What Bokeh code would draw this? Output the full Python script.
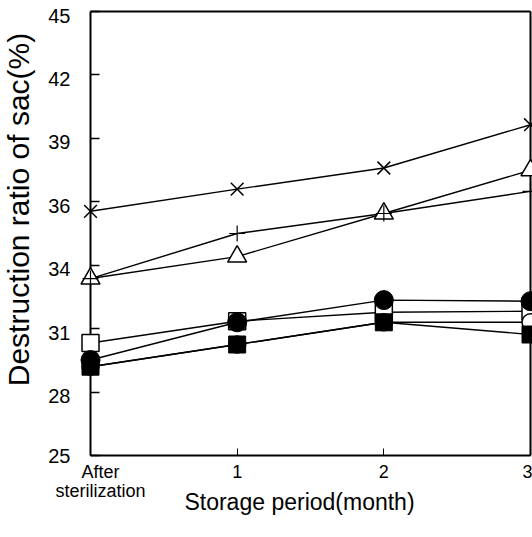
import math
from bokeh.plotting import figure
from bokeh.models import (Range1d, LinearAxis, FixedTicker, CustomJSTickFormatter)
from bokeh.core.properties import value
from bokeh.embed import file_html
from bokeh.resources import INLINE

# ---------------- data ----------------
months = [0, 1, 2, 3]
x_tick_labels = ["After\nsterilization", "1", "2", "3"]
y_tick_labels = ["25", "28", "31", "34", "36", "39", "42", "45"]
y_min, y_max = 25, 45

s_cross = [36.0, 37.0, 37.95, 39.9]
s_plus = [32.97, 35.0, 35.9, 36.9]
s_tri = [32.97, 33.96, 35.9, 37.85]
s_open_sq = [30.07, 31.05, 31.45, 31.5]
s_fill_circle = [29.3, 31.0, 32.0, 31.95]
s_open_circle = [29.0, 30.0, 31.0, 31.0]
s_fill_sq = [29.0, 30.0, 31.0, 30.45]

x_title = "Storage period(month)"
y_title = "Destruction ratio of sac(%)"

FONT = "Liberation Sans"

# ---------------- figure ----------------
W, H = 532, 537
B_LEFT, B_RIGHT, B_TOP, B_BOTTOM = 90, 2, 11, 82
p = figure(width=W, height=H, output_backend="svg", toolbar_location=None,
           x_range=Range1d(months[0], months[-1]), y_range=Range1d(y_min, y_max),
           x_axis_type=None, y_axis_type=None,
           min_border_left=B_LEFT, min_border_right=B_RIGHT,
           min_border_top=B_TOP, min_border_bottom=B_BOTTOM)
p.outline_line_color = None
p.background_fill_color = "white"
p.border_fill_color = "white"

frame_w = W - B_LEFT - B_RIGHT
frame_h = H - B_TOP - B_BOTTOM
px_x = (months[-1] - months[0]) / frame_w      # data units per pixel (x)
px_y = (y_max - y_min) / frame_h               # data units per pixel (y)

n = len(y_tick_labels)
y_ticks = [y_min + k * (y_max - y_min) / (n - 1) for k in range(n)]
shift = 4 * px_y
p.extra_y_ranges = {"lab": Range1d(y_min + shift, y_max + shift)}
lab_ticks = [y_min + shift] + y_ticks[1:]

# left axis: line + inward ticks
yA = LinearAxis(ticker=FixedTicker(ticks=y_ticks, minor_ticks=[]),
                formatter=CustomJSTickFormatter(code="return ''"),
                major_tick_in=9, major_tick_out=0, minor_tick_in=0, minor_tick_out=0,
                axis_line_width=2, major_tick_line_width=1.5, major_label_standoff=0)
p.add_layout(yA, "left")
# left axis: labels
yB = LinearAxis(y_range_name="lab", ticker=FixedTicker(ticks=lab_ticks, minor_ticks=[]),
                formatter=CustomJSTickFormatter(args=dict(labels=y_tick_labels), code="return labels[index]"),
                axis_line_color=None, major_tick_line_color=None, minor_tick_line_color=None,
                major_tick_in=0, major_tick_out=0, major_label_standoff=20,
                major_label_text_font=FONT, major_label_text_font_size="20px",
                major_label_text_color="black")
p.add_layout(yB, "left")

nb = "\u00a0" * 4
x_labels_shown = [nb + t.replace("\n", "\n" + nb) if i == 0 else t for i, t in enumerate(x_tick_labels)]
xA = LinearAxis(ticker=FixedTicker(ticks=months, minor_ticks=[]),
                formatter=CustomJSTickFormatter(args=dict(labels=x_labels_shown), code="return labels[index]"),
                major_tick_in=7, major_tick_out=0, minor_tick_in=0, minor_tick_out=0,
                axis_line_width=2, major_tick_line_width=1, major_label_standoff=6,
                major_label_text_font=FONT, major_label_text_font_size="18px",
                major_label_text_line_height=0.95,
                major_label_text_color="black")
p.add_layout(xA, "below")

top = LinearAxis(ticker=FixedTicker(ticks=[], minor_ticks=[]), axis_line_width=2,
                 major_label_standoff=0, major_tick_out=0, major_tick_in=0)
p.add_layout(top, "above")
right = LinearAxis(ticker=FixedTicker(ticks=[], minor_ticks=[]), axis_line_width=2,
                   major_label_standoff=0, major_tick_out=0, major_tick_in=0)
p.add_layout(right, "right")

# ---------------- series ----------------
for vals in [s_cross, s_plus, s_tri, s_open_sq, s_open_circle, s_fill_sq, s_fill_circle]:
    p.line(months, vals, line_color="black", line_width=1.4, level="overlay")

p.scatter(months, s_open_sq, marker="square", size=17, fill_color="white", line_color="black", line_width=1.5, level="overlay")
p.scatter(months, s_open_circle, marker="circle", size=17, fill_color="white", line_color="black", line_width=1.5, level="overlay")
p.scatter(months, s_tri, marker="triangle", size=19, fill_color="white", line_color="black", line_width=1.5, level="overlay")
p.scatter(months, s_plus, marker="cross", size=16, line_color="black", line_width=1.2, level="overlay")
p.scatter(months, s_cross, marker="x", size=18, line_color="black", line_width=1.5, level="overlay")
p.scatter(months, s_fill_sq, marker="square", size=17, fill_color="black", line_color="black", level="overlay")
p.scatter(months, s_fill_circle, marker="circle", size=19, fill_color="black", line_color="black", level="overlay")

# ---------------- axis titles (pixel offsets from the frame's bottom-left corner) ----------------
y_title_px = (-72, 246)   # baseline left of the frame, centre above the frame bottom
x_title_px = (209, -46)   # centre right of the frame left, baseline below the frame bottom
p.text(x=[months[0] + y_title_px[0] * px_x], y=[y_min + y_title_px[1] * px_y], text=[y_title],
       angle=math.pi / 2, text_align="center", text_baseline="alphabetic",
       text_font=value(FONT), text_font_size="30px", text_color="black", level="overlay")
p.text(x=[months[0] + x_title_px[0] * px_x], y=[y_min + x_title_px[1] * px_y], text=[x_title],
       text_align="center", text_baseline="alphabetic",
       text_font=value(FONT), text_font_size="23px", text_color="black", level="overlay")

open("out.html", "w").write(file_html(p, INLINE))
